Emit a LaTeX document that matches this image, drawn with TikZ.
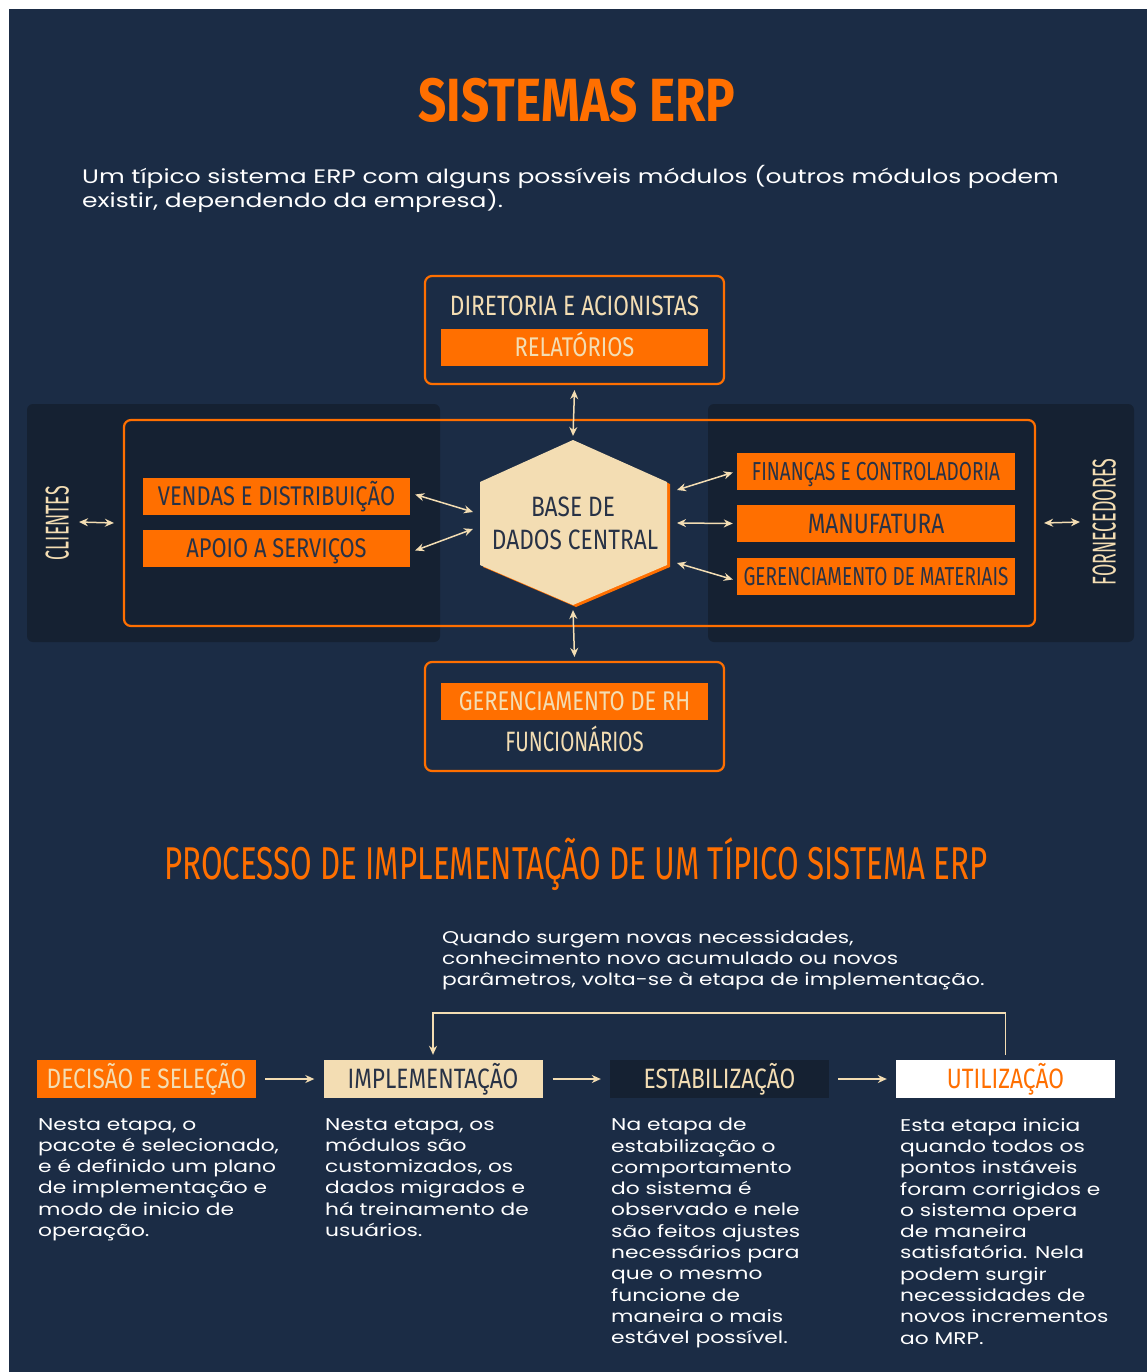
\documentclass[tikz,border=0pt]{standalone}
\usepackage{fontspec}
\setmainfont[FakeStretch=1.28]{Poppins}
\newfontfamily\cond[FakeStretch=0.81]{Fira Sans}
\newfontfamily\condn[FakeStretch=0.73]{Fira Sans}
\newfontfamily\condt[FakeStretch=0.68]{Fira Sans}
\newfontfamily\condr[FakeStretch=0.54]{Fira Sans}
\newfontfamily\condb[FakeStretch=0.81]{Fira Sans}
\usetikzlibrary{arrows.meta}
\definecolor{bg}{RGB}{27,44,69}
\definecolor{panel}{RGB}{21,33,50}
\definecolor{org}{RGB}{255,111,0}
\definecolor{crm}{RGB}{243,221,179}
\definecolor{dtx}{RGB}{40,50,70}
\newcommand\myfs[1]{\fontsize{#1}{#1}\selectfont}
\newcommand\myfsb[2]{\fontsize{#1}{#2}\selectfont}
\tikzset{
  obox/.style={draw=org, line width=2.2pt, rounded corners=7pt, inner sep=0pt},
  bar/.style={fill=org, inner sep=0pt, minimum height=37pt, text height=18pt, text depth=0pt, font=\cond\myfs{27}},
  lbl/.style={inner sep=0pt, text height=19pt, text depth=0pt, font=\cond\myfs{28}, text=crm},
  stage/.style={inner sep=0pt, minimum width=219pt, minimum height=38pt, text height=19pt, text depth=0pt, font=\cond\myfs{28}},
  arr/.style={draw=crm, line width=1.5pt, -{Stealth[length=9pt,width=8pt]}},
  dbl/.style={draw=crm, line width=1.5pt, {Stealth[length=9pt,width=8pt]}-{Stealth[length=9pt,width=8pt]}},
  body/.style={inner sep=0pt, anchor=north west, align=left, text=white, font=\myfsb{17}{21.3}},
}
\begin{document}
\begin{tikzpicture}[x=1pt,y=-1pt]
\useasboundingbox (0,0) rectangle (1147,1372);
\fill[white] (0,0) rectangle (1147,1372);
\fill[bg] (9,9) rectangle (1147,1372);

% title
\node[anchor=base, inner sep=0pt, text=org, font=\condb\bfseries\myfs{61}] (title) at (577,122) {SISTEMAS ERP};
\node[anchor=base west, inner sep=0pt, align=left, text=white, font=\myfsb{19.5}{24}] (sub) at (82,208)
 {Um típico sistema ERP com alguns possíveis módulos (outros módulos podem\\existir, dependendo da empresa).};

% panels
\fill[panel, rounded corners=6pt] (27,404) rectangle (440,642);
\fill[panel, rounded corners=6pt] (708,404) rectangle (1134,642);
\node[obox, minimum width=911pt, minimum height=206pt] (core) at (579.5,523) {};

% top box
\node[obox, minimum width=299pt, minimum height=108pt] (dirbox) at (574.5,330) {};
\node[lbl] (dir) at (574.5,306) {DIRETORIA E ACIONISTAS};
\node[bar, minimum width=267pt, text=crm] (rel) at (574.5,347) {RELATÓRIOS};

% bottom box
\node[obox, minimum width=299pt, minimum height=109pt] (rhbox) at (574.5,716.5) {};
\node[bar, minimum width=267pt, text=crm] (rh) at (574.5,701) {GERENCIAMENTO DE RH};
\node[lbl, font=\condn\myfs{28}] (func) at (574.5,742) {FUNCIONÁRIOS};

% hexagon
\coordinate (hT) at (573,440);
\coordinate (hB) at (573,605);
\fill[org] (483,484) -- (576,442) -- (670,484) -- (670,567) -- (576,607) -- (483,567) -- cycle;
\fill[crm] (480,482) -- (hT) -- (667,482) -- (667,565) -- (hB) -- (480,565) -- cycle;
\node[inner sep=0pt, align=center, text=dtx, font=\cond\myfs{28}, text height=19pt, text depth=0pt] (hex1) at (573,507) {BASE DE};
\node[inner sep=0pt, align=center, text=dtx, font=\cond\myfs{28}, text height=19pt, text depth=0pt] (hex2) at (575,540) {DADOS CENTRAL};

% left modules
\node[bar, minimum width=267pt, text=dtx] (vendas) at (276.5,496.5) {VENDAS E DISTRIBUIÇÃO};
\node[bar, minimum width=267pt, text=dtx] (apoio) at (276.5,548.5) {APOIO A SERVIÇOS};
% right modules
\node[bar, minimum width=278pt, text=dtx, font=\condn\myfs{26}] (fin) at (876,471.5) {FINANÇAS E CONTROLADORIA};
\node[bar, minimum width=278pt, text=dtx, font=\cond\myfs{28}, text height=19pt] (manu) at (876,523.5) {MANUFATURA};
\node[bar, minimum width=278pt, text=dtx, font=\condn\myfs{26}] (mat) at (876,576.5) {GERENCIAMENTO DE MATERIAIS};

% side labels
\node[lbl, rotate=90, font=\condr\myfs{33}, text height=23pt] (cli) at (57,523) {CLIENTES};
\node[lbl, rotate=90, font=\condr\myfs{33}, text height=23pt] (forn) at (1104,522) {FORNECEDORES};

% coordinates on hexagon
\coordinate (hl1) at (473,512);
\coordinate (hl2) at (473,529);
\coordinate (hr1) at (677,490);
\coordinate (hr2) at (677,523);
\coordinate (hr3) at (677,563);
\coordinate (hTa) at (573,436);
\coordinate (hBa) at (573,610);
\coordinate (cliA) at (79,522);
\coordinate (fornA) at (1080,522);

% arrows top diagram
\draw[dbl] ([yshift=-5pt]dirbox.south) -- (hTa);
\draw[dbl] (hBa) -- ([yshift=4pt]rhbox.north);
\draw[dbl] ([xshift=5pt,yshift=2pt]vendas.east) -- (hl1);
\draw[dbl] ([xshift=5pt,yshift=-2pt]apoio.east) -- (hl2);
\draw[dbl] (hr1) -- ([xshift=-4pt,yshift=-1pt]fin.west);
\draw[dbl] (hr2) -- ([xshift=-4pt,yshift=0pt]manu.west);
\draw[dbl] (hr3) -- ([xshift=-4pt,yshift=-3pt]mat.west);
\draw[dbl] (cliA) -- ([xshift=-9pt]core.west);
\draw[dbl] ([xshift=8pt]core.east) -- (fornA);

% process title
\node[anchor=base, inner sep=0pt, text=org, font=\condt\myfs{46}] (ptitle) at (576,879) {PROCESSO DE IMPLEMENTAÇÃO DE UM TÍPICO SISTEMA ERP};
\node[anchor=base west, inner sep=0pt, align=left, text=white, font=\myfsb{17}{21}] (fb) at (442,985)
 {Quando surgem novas necessidades,\\conhecimento novo acumulado ou novos\\parâmetros, volta-se à etapa de implementação.};

% stages
\node[stage, fill=org, text=crm] (dec) at (146.5,1079) {DECISÃO E SELEÇÃO};
\node[stage, fill=crm, text=dtx] (impl) at (433,1079) {IMPLEMENTAÇÃO};
\node[stage, fill=panel, text=crm] (est) at (719.5,1079) {ESTABILIZAÇÃO};
\node[stage, fill=white, text=org] (util) at (1005.5,1079) {UTILIZAÇÃO};

\draw[arr] ([xshift=9pt]dec.east) -- ([xshift=-9pt]impl.west);
\draw[arr] ([xshift=10pt]impl.east) -- ([xshift=-9pt]est.west);
\draw[arr] ([xshift=9pt]est.east) -- ([xshift=-9pt]util.west);
\draw[arr] ([yshift=5pt]util.north) -- ++(0,-42) -| ([yshift=5pt]impl.north);

% body texts
\node[body] (t1) at (38,1118) {Nesta etapa, o\\pacote é selecionado,\\e é definido um plano\\de implementação e\\modo de inicio de\\operação.};
\node[body] (t2) at (325,1118) {Nesta etapa, os\\módulos são\\customizados, os\\dados migrados e\\há treinamento de\\usuários.};
\node[body] (t3) at (611,1118) {Na etapa de\\estabilização o\\comportamento\\do sistema é\\observado e nele\\são feitos ajustes\\necessários para\\que o mesmo\\funcione de\\maneira o mais\\estável possível.};
\node[body] (t4) at (900,1118) {Esta etapa inicia\\quando todos os\\pontos instáveis\\foram corrigidos e\\o sistema opera\\de maneira\\satisfatória. Nela\\podem surgir\\necessidades de\\novos incrementos\\ao MRP.};
\end{tikzpicture}
\end{document}
